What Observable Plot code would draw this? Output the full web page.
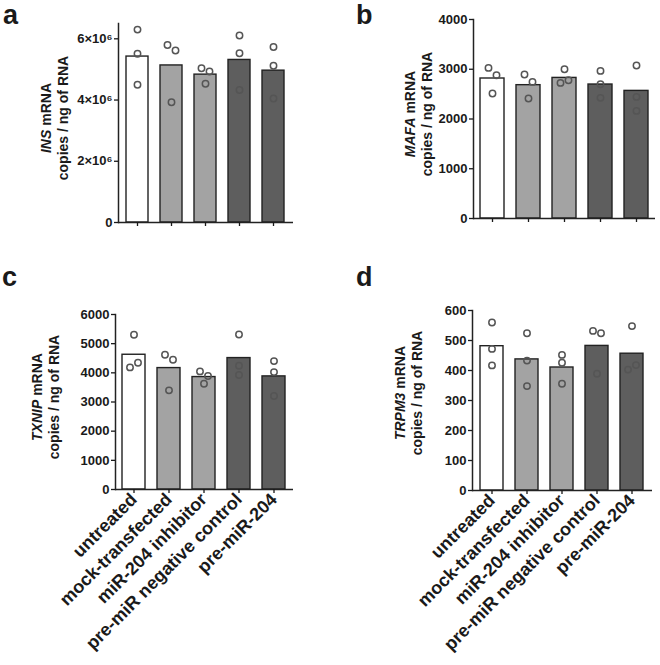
<!DOCTYPE html>
<html>
<head>
<meta charset="utf-8">
<script src="https://cdn.jsdelivr.net/npm/d3@7"></script>
<script src="https://cdn.jsdelivr.net/npm/@observablehq/plot@0.6"></script>
<style>
  html, body { margin: 0; padding: 0; background: #fff; }
  #root { position: relative; width: 660px; height: 665px; overflow: hidden; font-family: "Liberation Sans", Arial, sans-serif; color: #1a1a1a; }
  .panel { position: absolute; }
  .plabel { position: absolute; font-weight: bold; font-size: 27px; line-height: 1; }
  .ylab { position: absolute; width: 220px; text-align: center; font-weight: bold; font-size: 14px; line-height: 17px; transform: rotate(-90deg); white-space: nowrap; }
</style>
</head>
<body>
<div id="root"></div>
<script>
// ---------------- data ----------------
const categories = ["untreated", "mock-transfected", "miR-204 inhibitor", "pre-miR negative control", "pre-miR-204"];

const insMeans = [5.42e6, 5.13e6, 4.83e6, 5.31e6, 4.96e6];
const insPoints = [[6.30e6, 5.51e6, 4.50e6], [5.80e6, 5.62e6, 3.93e6], [5.04e6, 4.93e6, 4.53e6], [6.11e6, 5.53e6, 4.33e6], [5.73e6, 5.12e6, 4.05e6]];
const insTicks = [0, 2e6, 4e6, 6e6];

const mafaMeans = [2814, 2680, 2826, 2693, 2565];
const mafaPoints = [[3027, 2880, 2513], [2894, 2746, 2412], [3001, 2726, 2780], [2967, 2700, 2425], [3075, 2444, 2163]];
const mafaTicks = [0, 1000, 2000, 3000, 4000];

const txnipMeans = [4620, 4163, 3855, 4506, 3878];
const txnipPoints = [[5304, 4186, 4346], [4620, 4449, 3399], [4049, 3890, 3627], [5315, 4243, 3924], [4403, 4026, 3205]];
const txnipTicks = [0, 1000, 2000, 3000, 4000, 5000, 6000];

const trpm3Means = [481, 437, 410, 482, 456];
const trpm3Points = [[560, 472, 417], [524, 433, 348], [452, 426, 356], [532, 524, 389], [548, 403, 418]];
const trpm3Ticks = [0, 100, 200, 300, 400, 500, 600];

// ---------------- style ----------------
const barColors = ["#ffffff", "#a3a3a3", "#a3a3a3", "#5e5e5e", "#5e5e5e"];
const FONT = "'Liberation Sans', Arial, sans-serif";
const supFmt = d => d === 0 ? "0" : `${d / 1e6}×10⁶`;

const root = document.getElementById("root");

function panel(cfg) {
  const {left, top, width, height, mt, mb, ml, mr, yMax, means, points, ticks, tickFormat, showLabels} = cfg;
  const rows = categories.map((c, i) => ({cat: c, mean: means[i]}));
  const pxPerUnit = (height - mt - mb) / yMax;
  const pts = [];
  categories.forEach((c, i) => {
    const vals = points[i].map((v, k) => ({cat: c, v, k, slot: 0}));
    const sorted = vals.slice().sort((a, b) => b.v - a.v);
    for (let j = 0; j < sorted.length - 1; j++) {
      const a = sorted[j], b = sorted[j + 1];
      if (a.slot === 0 && b.slot === 0 && (a.v - b.v) * pxPerUnit < 7.6) {
        const [first, second] = a.k < b.k ? [a, b] : [b, a];
        first.slot = -1; second.slot = 1;
        j++;
      }
    }
    pts.push(...vals);
  });
  const dotOpts = {x: "cat", y: "v", r: 3.2, stroke: "#555", strokeWidth: 1.5, fill: "none"};
  const plot = Plot.plot({
    width, height,
    marginTop: mt, marginBottom: mb, marginLeft: ml, marginRight: mr,
    x: {domain: categories, paddingInner: 0.34, paddingOuter: 0.18, label: null, axis: null},
    y: {domain: [0, yMax], label: null, axis: null},
    style: {fontFamily: FONT, fontWeight: "bold", fontSize: "13px", color: "#1a1a1a", background: "transparent", overflow: "visible"},
    marks: [
      Plot.barY(rows, {x: "cat", y: "mean", fill: (d, i) => barColors[i], stroke: "#222", strokeWidth: 1.4}),
      Plot.dot(pts.filter(d => d.slot === 0), {...dotOpts}),
      Plot.dot(pts.filter(d => d.slot === -1), {...dotOpts, dx: -4}),
      Plot.dot(pts.filter(d => d.slot === 1), {...dotOpts, dx: 4}),
      Plot.ruleY([0], {stroke: "#222", strokeWidth: 1.5}),
      Plot.frame({anchor: "left", stroke: "#222", strokeWidth: 1.5}),
      Plot.axisY({ticks, tickFormat, tickSize: 4, tickPadding: 2, strokeWidth: 1.3, label: null}),
      showLabels
        ? Plot.axisX({tickRotate: -45, tickSize: 4, tickPadding: 3, fontSize: 18, strokeWidth: 1.3, label: null})
        : Plot.axisX({tickSize: 4, tickFormat: () => "", strokeWidth: 1.3, label: null})
    ]
  });
  const div = document.createElement("div");
  div.className = "panel";
  div.style.left = left + "px";
  div.style.top = top + "px";
  div.appendChild(plot);
  root.appendChild(div);
}

function addLabel(txt, x, y) {
  const d = document.createElement("div");
  d.className = "plabel";
  d.textContent = txt;
  d.style.left = x + "px";
  d.style.top = y + "px";
  root.appendChild(d);
}

function addYLabel(gene, cx, cy) {
  const d = document.createElement("div");
  d.className = "ylab";
  const l1 = document.createElement("div");
  const it = document.createElement("i");
  it.textContent = gene;
  l1.appendChild(it);
  l1.appendChild(document.createTextNode(" mRNA"));
  const l2 = document.createElement("div");
  l2.textContent = "copies / ng of RNA";
  d.appendChild(l1); d.appendChild(l2);
  d.style.left = (cx - 110) + "px";
  d.style.top = (cy - 17) + "px";
  root.appendChild(d);
}

panel({left: 0, top: 0, width: 330, height: 260, mt: 23, mb: 38, ml: 118, mr: 37, yMax: 6.5e6,
  means: insMeans, points: insPoints, ticks: insTicks, tickFormat: supFmt, showLabels: false});
panel({left: 330, top: 0, width: 330, height: 260, mt: 19, mb: 42, ml: 143, mr: 5, yMax: 4000,
  means: mafaMeans, points: mafaPoints, ticks: mafaTicks, tickFormat: d => String(d), showLabels: false});
panel({left: 0, top: 260, width: 330, height: 405, mt: 54, mb: 176, ml: 115, mr: 37, yMax: 6000,
  means: txnipMeans, points: txnipPoints, ticks: txnipTicks, tickFormat: d => String(d), showLabels: true});
panel({left: 330, top: 260, width: 330, height: 405, mt: 50, mb: 175, ml: 142, mr: 8, yMax: 600,
  means: trpm3Means, points: trpm3Points, ticks: trpm3Ticks, tickFormat: d => String(d), showLabels: true});

addLabel("a", 3, 2);
addLabel("b", 356, 2);
addLabel("c", 2, 264);
addLabel("d", 356, 264);

addYLabel("INS", 54.5, 118);
addYLabel("MAFA", 418.5, 114);
addYLabel("TXNIP", 46, 397);
addYLabel("TRPM3", 409, 393);
</script>
</body>
</html>
